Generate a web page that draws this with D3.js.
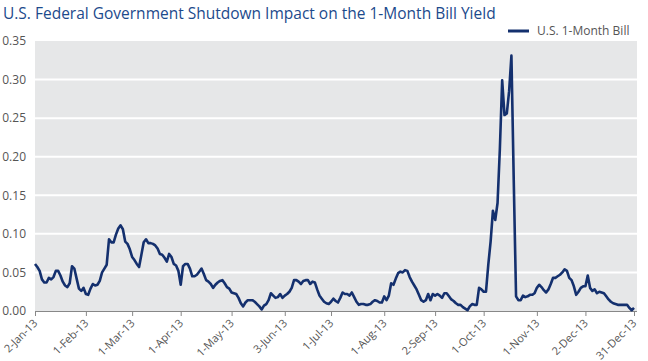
<!DOCTYPE html>
<html>
<head>
<meta charset="utf-8">
<script src="https://cdn.jsdelivr.net/npm/d3@7"></script>
<style>
  html, body { margin: 0; padding: 0; background: #fff; }
  svg { display: block; font-family: "Open Sans", "Noto Sans", sans-serif; }
</style>
</head>
<body>
<div id="chart"></div>
<script>
// 1-month bill yield, one value per weekday 2-Jan-13 .. 31-Dec-13
const yields = [
  0.061, 0.057, 0.052, 0.041, 0.037, 0.037, 0.043, 0.041, 0.044, 0.052,
  0.052, 0.046, 0.038, 0.033, 0.031, 0.036, 0.058, 0.055, 0.042, 0.029,
  0.026, 0.030, 0.022, 0.021, 0.029, 0.035, 0.033, 0.034, 0.039, 0.050,
  0.055, 0.060, 0.093, 0.089, 0.089, 0.099, 0.107, 0.111, 0.106, 0.090,
  0.087, 0.080, 0.070, 0.066, 0.061, 0.057, 0.073, 0.089, 0.093, 0.088,
  0.088, 0.087, 0.085, 0.081, 0.074, 0.073, 0.069, 0.064, 0.074, 0.070,
  0.061, 0.059, 0.052, 0.034, 0.058, 0.061, 0.061, 0.055, 0.045, 0.045,
  0.047, 0.051, 0.055, 0.048, 0.040, 0.038, 0.035, 0.030, 0.034, 0.037,
  0.039, 0.040, 0.036, 0.031, 0.029, 0.024, 0.023, 0.022, 0.017, 0.010,
  0.006, 0.011, 0.014, 0.014, 0.014, 0.012, 0.009, 0.006, 0.002, 0.007,
  0.009, 0.014, 0.023, 0.020, 0.017, 0.018, 0.022, 0.017, 0.020, 0.022,
  0.025, 0.030, 0.040, 0.040, 0.038, 0.035, 0.039, 0.040, 0.040, 0.035,
  0.038, 0.037, 0.028, 0.020, 0.016, 0.012, 0.010, 0.009, 0.012, 0.016,
  0.013, 0.011, 0.017, 0.024, 0.022, 0.022, 0.020, 0.024, 0.018, 0.012,
  0.008, 0.009, 0.009, 0.008, 0.008, 0.009, 0.012, 0.014, 0.013, 0.011,
  0.011, 0.019, 0.014, 0.020, 0.036, 0.034, 0.042, 0.049, 0.051, 0.050,
  0.053, 0.052, 0.044, 0.038, 0.033, 0.028, 0.021, 0.014, 0.012, 0.014,
  0.022, 0.014, 0.022, 0.020, 0.022, 0.020, 0.017, 0.023, 0.023, 0.019,
  0.015, 0.013, 0.010, 0.008, 0.008, 0.005, 0.003, 0.001, 0.006, 0.009,
  0.008, 0.008, 0.030, 0.028, 0.025, 0.025, 0.060, 0.090, 0.130, 0.118,
  0.140, 0.210, 0.299, 0.254, 0.256, 0.285, 0.331, 0.170, 0.019, 0.014,
  0.014, 0.020, 0.018, 0.019, 0.021, 0.021, 0.023, 0.030, 0.034, 0.031,
  0.027, 0.024, 0.028, 0.035, 0.043, 0.043, 0.045, 0.047, 0.050, 0.054,
  0.052, 0.043, 0.040, 0.032, 0.021, 0.025, 0.030, 0.032, 0.032, 0.046,
  0.030, 0.026, 0.028, 0.023, 0.025, 0.024, 0.023, 0.019, 0.015, 0.012,
  0.010, 0.009, 0.008, 0.008, 0.008, 0.008, 0.008, 0.004, 0.001, 0.004
];

const xTickLabels = ["2-Jan-13", "1-Feb-13", "1-Mar-13", "1-Apr-13", "1-May-13", "3-Jun-13",
  "1-Jul-13", "1-Aug-13", "2-Sep-13", "1-Oct-13", "1-Nov-13", "2-Dec-13", "31-Dec-13"];
const yTicks = [0, 0.05, 0.10, 0.15, 0.20, 0.25, 0.30, 0.35];
const seriesName = "U.S. 1-Month Bill";
const title = "U.S. Federal Government Shutdown Impact on the 1-Month Bill Yield";

const width = 648, height = 361;
const fmt = d3.timeFormat("%-d-%b-%y");

// weekday calendar for the category axis
const days = d3.timeDay.range(new Date(2013, 0, 2), new Date(2014, 0, 1))
  .filter(d => d.getDay() !== 0 && d.getDay() !== 6)
  .map(fmt);

const data = yields.map((v, i) => ({ day: days[i], value: v }));

const plot = { left: 35, right: 637, top: 41, bottom: 311 };

const x = d3.scalePoint().domain(days).range([plot.left, 634]);
const y = d3.scaleLinear().domain([0, 0.35]).range([plot.bottom, plot.top]);

const svg = d3.select("#chart").append("svg")
  .attr("width", width)
  .attr("height", height);

svg.append("text")
  .attr("x", 3)
  .attr("y", 19)
  .attr("fill", "#1c4a8c")
  .attr("font-size", 15.5)
  .text(title);

// plot background
svg.append("rect")
  .attr("x", plot.left)
  .attr("y", plot.top)
  .attr("width", plot.right - plot.left)
  .attr("height", plot.bottom - plot.top)
  .attr("fill", "#e6e7e8");

// gridlines
svg.append("g")
  .selectAll("line")
  .data(yTicks.filter(t => t > 0 && t < 0.35))
  .join("line")
  .attr("x1", plot.left)
  .attr("x2", plot.right)
  .attr("y1", d => y(d))
  .attr("y2", d => y(d))
  .attr("stroke", "#fff")
  .attr("stroke-width", 2);

// y axis labels
const yAxis = svg.append("g")
  .attr("transform", `translate(${plot.left - 6},0)`)
  .call(d3.axisLeft(y).tickValues(yTicks).tickFormat(d3.format(".2f")).tickSize(0));
yAxis.select(".domain").remove();
yAxis.selectAll("text")
  .attr("fill", "#555")
  .attr("font-size", 12)
  .attr("font-family", "Open Sans, sans-serif");

// x axis
const xAxis = svg.append("g")
  .attr("transform", `translate(0,${plot.bottom})`)
  .call(d3.axisBottom(x).tickValues(xTickLabels).tickSize(5).tickSizeOuter(0));
xAxis.select(".domain")
  .attr("d", `M${plot.left},0.5H${plot.right}`)
  .attr("stroke", "#888")
  .attr("stroke-width", 1.2);
xAxis.selectAll(".tick line").attr("stroke", "#888");
xAxis.selectAll("text")
  .attr("fill", "#555")
  .attr("font-size", 11)
  .attr("font-family", "Open Sans, sans-serif")
  .attr("text-anchor", "end")
  .attr("transform", "translate(0,10) rotate(-45)")
  .attr("dy", "0.35em")
  .attr("y", 0)
  .attr("x", 0);

// the series
svg.append("path")
  .datum(data)
  .attr("fill", "none")
  .attr("stroke", "#14306e")
  .attr("stroke-width", 2.6)
  .attr("stroke-linejoin", "round")
  .attr("d", d3.line().x(d => x(d.day)).y(d => y(d.value)));

// legend
const legend = svg.append("g").attr("transform", "translate(508,31)");
legend.append("line")
  .attr("x1", 0).attr("x2", 21)
  .attr("stroke", "#14306e")
  .attr("stroke-width", 3);
legend.append("text")
  .attr("x", 29)
  .attr("dy", "0.35em")
  .attr("fill", "#555")
  .attr("font-size", 12)
  .text(seriesName);
</script>
</body>
</html>
